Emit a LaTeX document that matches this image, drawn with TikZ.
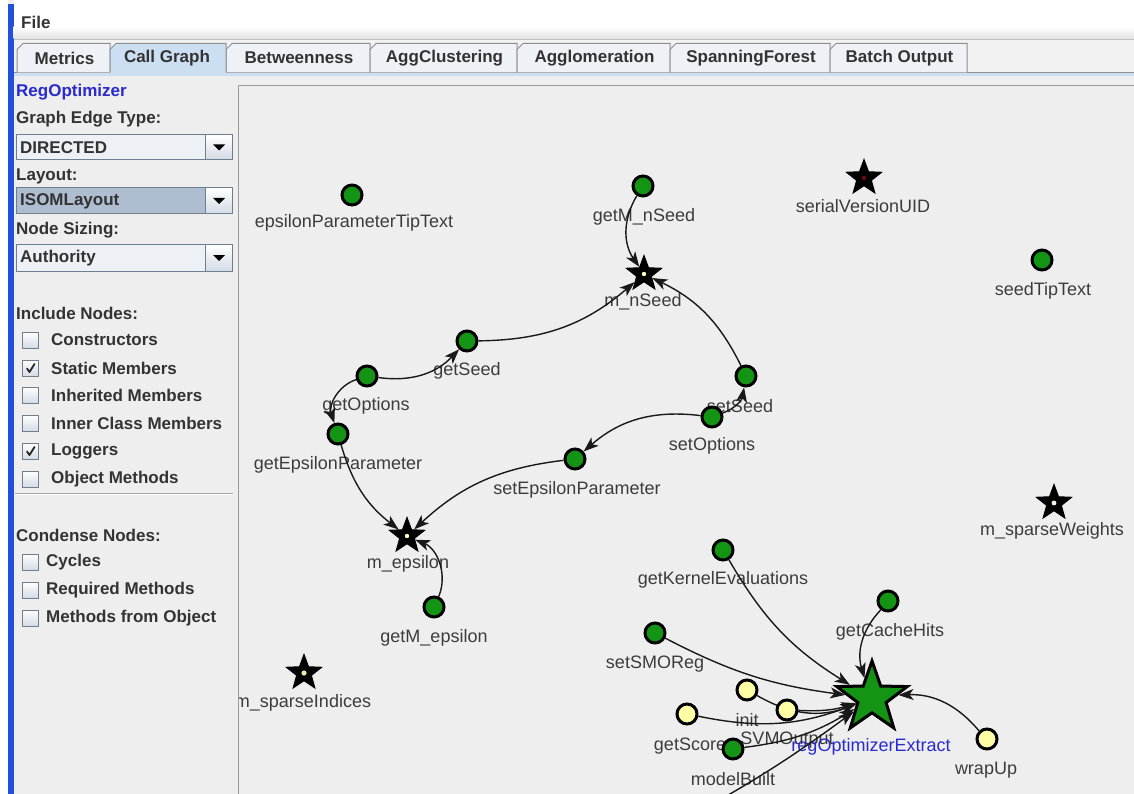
\documentclass[tikz,border=0pt]{standalone}
\usepackage{fontspec}
\setmainfont{Liberation Sans}
\usetikzlibrary{arrows.meta,shapes.geometric}

\definecolor{panelbg}{HTML}{EEEEEE}
\definecolor{uitext}{HTML}{333333}
\definecolor{vtext}{HTML}{3C3C3C}
\definecolor{classblue}{HTML}{2A2ACF}
\definecolor{methodgreen}{HTML}{149414}
\definecolor{methodyellow}{HTML}{FFFFA6}
\definecolor{tabline}{HTML}{8E8E8E}
\definecolor{tabsel}{HTML}{CCDFF2}
\definecolor{tabplain}{HTML}{EEF1F5}
\definecolor{boxfill}{HTML}{EDF0F4}
\definecolor{boxsel}{HTML}{AFBDD0}
\definecolor{boxline}{HTML}{707F90}
\definecolor{checkfill}{HTML}{D3DBE5}
\definecolor{sidebar}{HTML}{2151DB}
\definecolor{panelline}{HTML}{9A9A9A}
\definecolor{corepale}{HTML}{FFFFB8}
\definecolor{corered}{HTML}{6B0A0A}
\definecolor{corewhite}{HTML}{F4F4E4}
\definecolor{corelime}{HTML}{E2F0A6}

\pgfdeclarelayer{ui}
\pgfdeclarelayer{labels}
\pgfdeclarelayer{edges}
\pgfsetlayers{ui,labels,edges,main}

\tikzset{
  uifont/.style={font=\fontsize{17}{20}\selectfont\bfseries},
  uilabel/.style={uifont, anchor=west, inner sep=0pt, text=uitext},
  tabtext/.style={uifont, inner sep=0pt, text=uitext},
  vlabel/.style={font=\fontsize{18}{21}\selectfont, inner sep=0pt, text=vtext},
  method/.style={circle, draw=black, line width=3pt, fill=methodgreen, minimum size=20pt, inner sep=0pt},
  helper/.style={method, fill=methodyellow},
  field/.style={star, star points=5, star point ratio=2.4, draw=black, line width=1pt, fill=black, minimum size=37pt, inner sep=0pt},
  hub/.style={star, star points=5, star point ratio=2.5, draw=black, line width=3pt, fill=methodgreen, minimum size=74pt, inner sep=0pt},
  call/.style={draw=black!90, line width=1.4pt, -{Stealth[length=15pt,width=11pt,inset=4pt]}},
  combo/.style={draw=boxline, line width=1pt},
  checkbox/.style={draw=boxline, line width=0.8pt, top color=white, bottom color=checkfill},
}

\begin{document}
\begin{tikzpicture}[x=1pt,y=-1pt]
\useasboundingbox (0,0) rectangle (1134,794);

% ---------------- window chrome ----------------
\begin{pgfonlayer}{ui}
\fill[panelbg] (0,0) rectangle (1134,794);
\fill[white] (0,0) rectangle (8,794);
\fill[sidebar] (8,4) rectangle (13.5,794);
% menu bar
\fill[white] (13.5,0) rectangle (1134,27);
\shade[top color=white, bottom color=black!12] (13.5,27) rectangle (1134,39);
\draw[black!25, line width=1pt] (13.5,39.5) -- (1134,39.5);
\fill[black!5] (13.5,40) rectangle (1134,72);
\node[uilabel] (menuFile) at (21,22) {File};

% tab strip
\fill[tabsel] (13.5,72) rectangle (1134,76.5);
\draw[tabline, line width=1pt] (13.5,72.5) -- (1134,72.5);
\foreach \l/\r/\t/\n in {17/110/Metrics/tabMetrics,
                          226/370/Betweenness/tabBetween,
                          370/517/AggClustering/tabAggClust,
                          517/670/Agglomeration/tabAgglom,
                          670/830/SpanningForest/tabForest,
                          830/967/Batch Output/tabBatch}{
  \filldraw[fill=tabplain, draw=tabline, line width=1pt]
    (\l,72.5) -- (\l,49.5) -- ({\l+6},43.5) -- (\r,43.5) -- (\r,72.5);
  \node[tabtext] (\n) at ({(\l+\r)/2+1},58) {\t};
}
% selected tab
\fill[tabsel] (110,76) -- (110,49.5) -- (116,43.5) -- (226,43.5) -- (226,76) -- cycle;
\draw[tabline, line width=1pt] (110,72.5) -- (110,49.5) -- (116,43.5) -- (226,43.5) -- (226,72.5);
\node[tabtext] (tabCallGraph) at (167,58) {Call Graph};

% ---------------- control panel ----------------
\node[uilabel, text=classblue] (className) at (16,92) {RegOptimizer};
\node[uilabel] (edgeTypeLbl) at (16,119) {Graph Edge Type:};
\node[uilabel] (layoutLbl) at (16,176) {Layout:};
\node[uilabel] (sizingLbl) at (16,230) {Node Sizing:};

\foreach \t/\b/\f/\s/\n in {135/160/boxfill/DIRECTED/edgeTypeBox,
                            188/214/boxsel/ISOMLayout/layoutBox,
                            245/271/boxfill/Authority/sizingBox}{
  \fill[\f] (16,\t) rectangle (205,\b);
  \shade[top color=white, bottom color=checkfill] (205,\t) rectangle (232,\b);
  \draw[combo] (16.5,\t) rectangle (232,\b);
  \draw[boxline, line width=0.8pt] (205,\t) -- (205,\b);
  \fill[black] (213,{(\t+\b)/2-3}) -- (225,{(\t+\b)/2-3}) -- (219,{(\t+\b)/2+3}) -- cycle;
  \node[uilabel] (\n) at (20,{(\t+\b)/2+0.5}) {\s};
}

\node[uilabel] (includeLbl) at (16,313) {Include Nodes:};
\foreach \y/\s/\n in {340/Constructors/optCtor,
                      368/Static Members/optStatic,
                      395/Inherited Members/optInherited,
                      423/Inner Class Members/optInner,
                      451/Loggers/optLoggers,
                      479/Object Methods/optObject}{
  \shade[checkbox] (22.5,{\y-8}) rectangle (38.5,{\y+8});
  \draw[boxline, line width=0.8pt] (22.5,{\y-8}) rectangle (38.5,{\y+8});
  \node[uilabel] (\n) at (51,\y) {\s};
}
% ticks in the two selected boxes
\foreach \y in {368,451}{
  \draw[black!85, line width=1.8pt, line cap=round, line join=round]
    (27,{\y+0.5}) -- (29.5,{\y+4}) -- (34.5,{\y-4});
}
\draw[black!35, line width=1pt] (15,493) -- (233,493);
\draw[white, line width=1pt] (15,494.5) -- (233,494.5);

\node[uilabel] (condenseLbl) at (16,535) {Condense Nodes:};
\foreach \y/\s/\n in {562/Cycles/optCycles,
                      590/Required Methods/optRequired,
                      618/Methods from Object/optFromObject}{
  \shade[checkbox] (22.5,{\y-8}) rectangle (38.5,{\y+8});
  \draw[boxline, line width=0.8pt] (22.5,{\y-8}) rectangle (38.5,{\y+8});
  \node[uilabel] (\n) at (46,\y) {\s};
}

% graph view frame
\fill[panelbg] (238,85) rectangle (1134,794);
\end{pgfonlayer}

% ---------------- call graph: vertices ----------------
\node[method] (epsTip)        at (352,195) {};
\node[method] (getMnSeed)     at (643,186) {};
\node[field]  (mnSeed)        at (644,274) {};
\node[field]  (serialUID)     at (864,178) {};
\node[method] (seedTip)       at (1042,260) {};
\node[method] (getSeed)       at (467,341) {};
\node[method] (getOptions)    at (367,376) {};
\node[method] (setSeed)       at (746,376) {};
\node[method] (setOptions)    at (712,417) {};
\node[method] (getEpsParam)   at (338,434) {};
\node[method] (setEpsParam)   at (575,459) {};
\node[field]  (mEpsilon)      at (407,536) {};
\node[method] (getMEpsilon)   at (434,607) {};
\node[field]  (mSparseW)      at (1054,503) {};
\node[field]  (mSparseI)      at (304,673) {};
\node[method] (getKernelEval) at (723,550) {};
\node[method] (getCacheHits)  at (888,601) {};
\node[method] (setSMOReg)     at (655,633) {};
\node[hub]    (regExtract)    at (872,698) {};
\node[helper] (init)          at (747,690) {};
\node[helper] (svmOutput)     at (787,710) {};
\node[helper] (getScore)      at (687,714) {};
\node[method] (modelBuilt)    at (733,749) {};
\node[helper] (wrapUp)        at (987,739) {};
\coordinate   (belowView)     at (676,824);

% pale cores of the field stars
\fill[corepale]  (mnSeed) circle (2.2);
\fill[corepale]  (mEpsilon) circle (2.2);
\fill[corered]   (serialUID) circle (2.2);
\fill[corewhite] (mSparseW) circle (2.4);
\fill[corelime]  (mSparseI) circle (2.6);

% ---------------- call graph: labels ----------------
\begin{pgfonlayer}{labels}
\begin{scope}
\clip (239,86) rectangle (1134,794);
\node[vlabel] (epsTip-l)        at (354,223) {epsilonParameterTipText};
\node[vlabel] (getMnSeed-l)     at (644,217) {getM\_nSeed};
\node[vlabel] (mnSeed-l)        at (643,302) {m\_nSeed};
\node[vlabel] (serialUID-l)     at (863,206) {serialVersionUID};
\node[vlabel] (seedTip-l)       at (1043,291) {seedTipText};
\node[vlabel] (getSeed-l)       at (467,371) {getSeed};
\node[vlabel] (getOptions-l)    at (366,406) {getOptions};
\node[vlabel] (setSeed-l)       at (740,406) {setSeed};
\node[vlabel] (setOptions-l)    at (712,446) {setOptions};
\node[vlabel] (getEpsParam-l)   at (338,465) {getEpsilonParameter};
\node[vlabel] (setEpsParam-l)   at (577,490) {setEpsilonParameter};
\node[vlabel] (mEpsilon-l)      at (408,564) {m\_epsilon};
\node[vlabel] (getMEpsilon-l)   at (434,638) {getM\_epsilon};
\node[vlabel] (mSparseW-l)      at (1052,531) {m\_sparseWeights};
\node[vlabel] (mSparseI-l)      at (303,703) {m\_sparseIndices};
\node[vlabel] (getKernelEval-l) at (723,580) {getKernelEvaluations};
\node[vlabel] (getCacheHits-l)  at (890,632) {getCacheHits};
\node[vlabel] (setSMOReg-l)     at (655,664) {setSMOReg};
\node[vlabel] (init-l)          at (747,720) {init};
\node[vlabel] (svmOutput-l)     at (787,740) {SVMOutput};
\node[vlabel] (getScore-l)      at (690,746) {getScore};
\node[vlabel] (modelBuilt-l)    at (733,779) {modelBuilt};
\node[vlabel, text=classblue] (regExtract-l) at (871,747) {regOptimizerExtract};
\node[vlabel] (wrapUp-l)        at (986,770) {wrapUp};
\end{scope}
\end{pgfonlayer}

% ---------------- call graph: calls ----------------
\begin{pgfonlayer}{edges}
\begin{scope}
\clip (239,86) rectangle (1134,794);
\draw[call] (getMnSeed)   to[bend right=33] (mnSeed);
\draw[call] (getSeed)     to[bend right=20] (mnSeed);
\draw[call] (setSeed)     to[bend right=19] (mnSeed);
\draw[call] (setOptions)  to[bend right=30] (setSeed);
\draw[call] (setOptions)  to[bend right=24] (setEpsParam);
\draw[call] (getOptions)  to[bend right=27] (getSeed);
\draw[call] (getOptions)  to[bend right=45] (getEpsParam);
\draw[call] (getEpsParam) to[bend right=18] (mEpsilon);
\draw[call] (setEpsParam) to[bend right=18] (mEpsilon);
\draw[call] (getMEpsilon) to[bend right=45] (mEpsilon);
\draw[call] (getKernelEval) to[bend right=14] (regExtract);
\draw[call] (getCacheHits)  to[bend right=30] (regExtract);
\draw[call] (setSMOReg)     to[bend right=10] (regExtract);
\draw[call] (init)          to[bend right=25] (regExtract);
\draw[call] (getScore)      to[bend right=16] (regExtract);
\draw[call] (svmOutput)     to[bend right=10] (regExtract);
\draw[call] (modelBuilt)    to[bend right=12] (regExtract);
\draw[call] (belowView)     to[bend right=4]  (regExtract);
\draw[call] (wrapUp)        to[bend right=26] (regExtract);
\end{scope}
\end{pgfonlayer}

% frame lines of the graph view
\draw[panelline, line width=1.2pt] (238.5,794) -- (238.5,85.5) -- (1134,85.5);
\end{tikzpicture}
\end{document}
